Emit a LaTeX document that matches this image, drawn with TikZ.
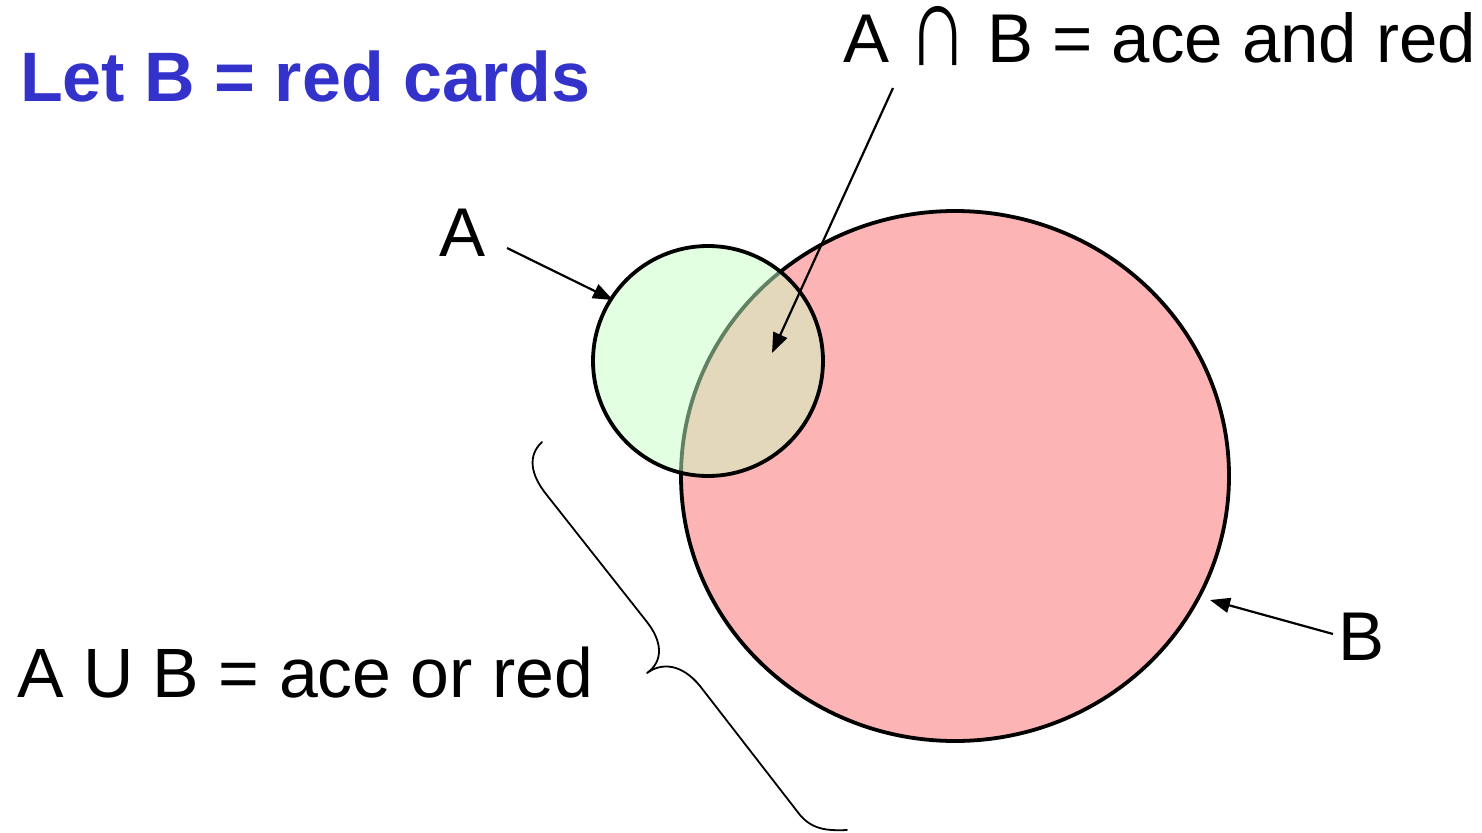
\documentclass[tikz,border=0pt]{standalone}
\usepackage{fontspec}
\setmainfont{Liberation Sans}
\usetikzlibrary{arrows.meta}
\definecolor{titleblue}{RGB}{51,51,204}
\definecolor{pinkB}{RGB}{252,180,180}
\definecolor{greenA}{RGB}{226,255,226}
\definecolor{tanAB}{RGB}{227,216,188}
\definecolor{edgeAB}{RGB}{98,128,98}
\begin{document}
\begin{tikzpicture}[x=1pt,y=-1pt,
  lbl/.style={inner sep=0pt, anchor=base west, font=\fontsize{69}{80}\selectfont},
  ttl/.style={inner sep=0pt, anchor=base west, text=titleblue, font=\fontsize{70}{82}\selectfont\bfseries},
  pointer/.style={line width=2.2pt, -{Triangle[length=20pt,width=15pt]}},
  setline/.style={line width=3.8pt},
  bracestyle/.style={line width=1.8pt, line join=round, line cap=round}]
\useasboundingbox (0,0) rectangle (1482,832);
% sets
\coordinate (cA) at (708,361);
\coordinate (cB) at (955,476);
\draw[setline, fill=pinkB] (cB) ellipse[x radius=274pt, y radius=265pt];
\fill[greenA] (cA) circle[radius=115pt];
\begin{scope}
  \clip (cA) circle[radius=115pt];
  \fill[tanAB] (cB) ellipse[x radius=274pt, y radius=265pt];
  \draw[setline, edgeAB] (cB) ellipse[x radius=274pt, y radius=265pt];
\end{scope}
\draw[setline] (cA) circle[radius=115pt];
% labels
\node[ttl] (title) at (20,102) {Let B = red cards};
\node[lbl] (lint) at (843,63) {A \raisebox{-3pt}{\scalebox{1.2}[1.7]{∩}} B = ace and red};
\node[lbl] (lA) at (439,256) {A};
\node[lbl] (lB) at (1338,660) {B};
\node[lbl, font=\fontsize{69.8}{80}\selectfont] (lU) at (17,697) {A U B = ace or red};
% arrow ends
\coordinate (tA0) at (507,248);
\coordinate (tA1) at (613,300);
\coordinate (tI0) at (893,88);
\coordinate (tI1) at (772,353);
\coordinate (tB0) at (1333,634);
\coordinate (tB1) at (1210,600);
\draw[pointer] (tA0) -- (tA1);
\draw[pointer] (tB0) -- (tB1);
\draw[pointer] (tI0) -- (tI1);
% brace
\coordinate (br0) at (542,442);
\coordinate (brtip) at (647,673);
\coordinate (br1) at (847,830);
\draw[bracestyle] (br0) .. controls (527,456) and (531,475) .. (546,494)
  -- (647,622)
  .. controls (662,641) and (664,661) .. (brtip)
  .. controls (662,662) and (682,664) .. (700,686)
  -- (800,815)
  .. controls (812,829) and (826,831) .. (br1);
\end{tikzpicture}
\end{document}
